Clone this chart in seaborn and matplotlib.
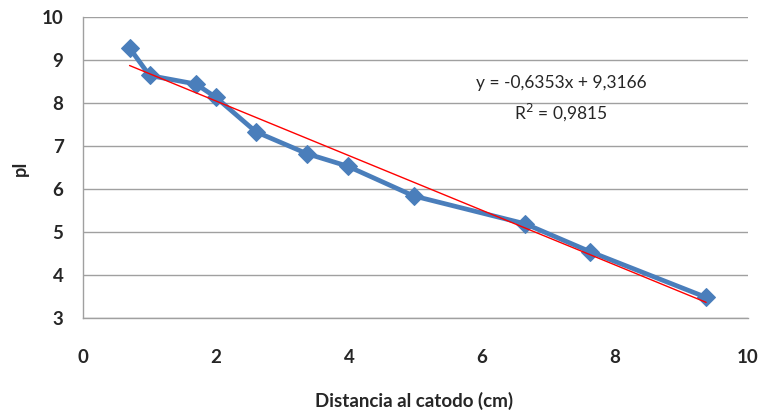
import matplotlib
matplotlib.use("Agg")
import matplotlib.pyplot as plt
import seaborn as sns
import numpy as np
import pandas as pd

# Measured isoelectric point vs. distance to the cathode
distancia = [0.7, 1.0, 1.7, 2.0, 2.6, 3.37, 3.98, 4.97, 6.65, 7.63, 9.37]
pI = [9.28, 8.64, 8.44, 8.13, 7.33, 6.82, 6.53, 5.84, 5.19, 4.54, 3.48]

# Linear trendline coefficients
pendiente = -0.6353
intercepto = 9.3166
r2 = 0.9815

x_ticks = [0, 2, 4, 6, 8, 10]
y_ticks = [3, 4, 5, 6, 7, 8, 9, 10]

df = pd.DataFrame({"Distancia": distancia, "pI": pI})

sns.set_style("white")
plt.rcParams["font.family"] = ["Lato", "DejaVu Sans"]

W, H = 761, 415
fig = plt.figure(figsize=(W / 100, H / 100), dpi=100)
x0, x1, ytop, ybot = 83, 748, 17, 318
ax = fig.add_axes([x0 / W, (H - ybot) / H, (x1 - x0) / W, (ybot - ytop) / H])

sns.lineplot(data=df, x="Distancia", y="pI", ax=ax, color="#4a7ebb",
             linewidth=3.4, marker="D", markersize=9.5, markeredgecolor="#4a7ebb",
             zorder=3)

# Trendline across the data range
xt = np.array([min(distancia), max(distancia)])
ax.plot(xt, pendiente * xt + intercepto, color="#ff0000", linewidth=1.0, zorder=4)

ax.set_xlim(0, 10)
ax.set_ylim(3, 10)
ax.set_xticks(x_ticks)
ax.set_yticks(y_ticks)
ax.set_xticklabels([str(t) for t in x_ticks], fontsize=13.5, fontweight="bold")
ax.set_yticklabels([str(t) for t in y_ticks], fontsize=13.5, fontweight="bold")
ax.tick_params(axis="x", length=0, pad=22)
ax.tick_params(axis="y", length=0, pad=14)

ax.yaxis.grid(True, color="#a0a0a0", linewidth=1.0)
ax.xaxis.grid(False)
for s in ["top", "right"]:
    ax.spines[s].set_visible(False)
for s in ["left", "bottom"]:
    ax.spines[s].set_color("#a0a0a0")
    ax.spines[s].set_linewidth(1.0)

ax.set_xlabel("Distancia al catodo (cm)", fontsize=13.5, fontweight="bold")
ax.set_ylabel("pI", fontsize=13, fontweight="bold")
ax.xaxis.set_label_coords((414 - x0) / (x1 - x0), (ybot - 401) / (ybot - ytop))
ax.yaxis.set_label_coords((20 - x0) / (x1 - x0), (ybot - 168) / (ybot - ytop))
ax.xaxis.label.set_va("center")
ax.yaxis.label.set_va("center")

eq = "y = {:.4f}x + {:.4f}".format(pendiente, intercepto).replace(".", ",")
fig.text(561 / W, 1 - 83 / H, eq, fontsize=12.5, ha="center", va="center")
fig.text(561 / W, 1 - 112 / H, "R$^2$ = {:.4f}".format(r2).replace(".", ","),
         fontsize=12.5, ha="center", va="center")

fig.savefig("out.png", dpi=100)
